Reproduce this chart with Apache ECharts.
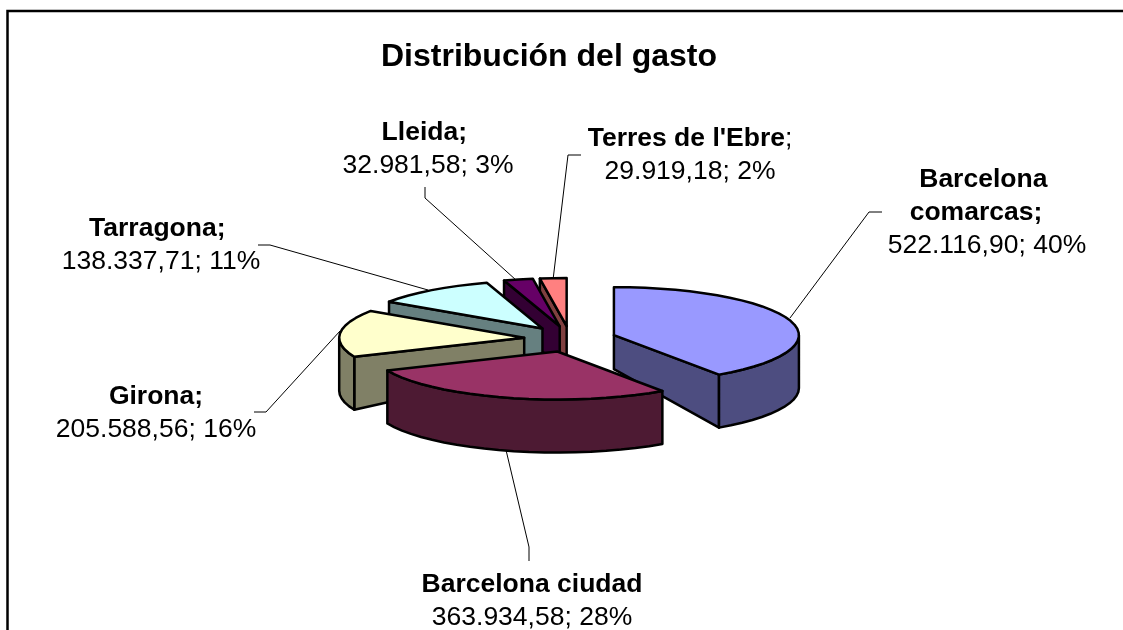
<!DOCTYPE html>
<html>
<head>
    <meta charset="utf-8">
    <title>Distribución del gasto</title>
    <style>
        html, body { margin: 0; padding: 0; background: #fff; overflow: hidden; }
        #chart1 { width: 1123px; height: 630px; }
    </style>
    <script src="https://cdn.jsdelivr.net/npm/echarts@6/dist/echarts.min.js"></script>
</head>
<body>
<div id="chart1"></div>
<script type="text/javascript">
    // datos, en orden horario desde las 12
    var categories = ['Barcelona comarcas', 'Barcelona ciudad', 'Girona', 'Tarragona', 'Lleida', "Terres de l'Ebre"];
    var values = [522116.90, 363934.58, 205588.56, 138337.71, 32981.58, 29919.18];
    var valueLabels = ['522.116,90', '363.934,58', '205.588,56', '138.337,71', '32.981,58', '29.919,18'];
    var percentLabels = ['40%', '28%', '16%', '11%', '3%', '2%'];

    // colores: cara superior y pared
    var topColors = ['#9999ff', '#993366', '#ffffcc', '#ccffff', '#660066', '#ff8080'];
    var wallColors = ['#4d4d80', '#4d1a33', '#808066', '#668080', '#330033', '#804040'];

    // geometria de la tarta inclinada
    var CX = 570, CY = 339, RX = 185, RY = 48;
    var EXPLODE_X = 46, EXPLODE_Y = 13;
    var RIM_DEPTH = 53, APEX_DEPTH = 34;

    var total = values.reduce(function (a, b) { return a + b; }, 0);

    function rimPoint(apex, deg, dy) {
        var r = deg * Math.PI / 180;
        return [apex[0] + RX * Math.sin(r), apex[1] - RY * Math.cos(r) + (dy || 0)];
    }

    function arcPoints(apex, from, to, dy) {
        var pts = [];
        var n = Math.max(2, Math.ceil((to - from) / 5));
        for (var i = 0; i <= n; i++) {
            pts.push(rimPoint(apex, from + (to - from) * i / n, dy));
        }
        return pts;
    }

    function renderSlice(params, api) {
        var i = params.dataIndex;
        var before = 0;
        for (var k = 0; k < i; k++) before += values[k];
        var start = before / total * 360;
        var end = (before + api.value(1)) / total * 360;
        var mid = (start + end) / 2 * Math.PI / 180;
        var apex = [CX + EXPLODE_X * Math.sin(mid), CY - EXPLODE_Y * Math.cos(mid)];
        var apexLow = [apex[0], apex[1] + APEX_DEPTH];
        var children = [];
        // lo que esta mas cerca del frente se pinta encima
        var order = Math.round(apex[1] * 10);

        function face(points, fill) {
            children.push({
                type: 'polygon',
                z2: order,
                shape: { points: points },
                style: { fill: fill, stroke: '#000', lineWidth: 2.5, lineJoin: 'round' }
            });
        }

        // pared radial, si mira al frente
        if (start >= 180) {
            face([apex, rimPoint(apex, start), rimPoint(apex, start, RIM_DEPTH), apexLow], wallColors[i]);
        }
        if (end > 90 && end < 180) {
            face([apex, rimPoint(apex, end), rimPoint(apex, end, RIM_DEPTH), apexLow], wallColors[i]);
        }
        // pared curva, solo la mitad delantera del borde
        var from = Math.max(start, 90), to = Math.min(end, 270);
        if (to > from) {
            face(arcPoints(apex, from, to).concat(arcPoints(apex, from, to, RIM_DEPTH).reverse()), wallColors[i]);
        }
        // cara superior
        face([apex].concat(arcPoints(apex, start, end)), topColors[i]);
        return { type: 'group', children: children };
    }

    var FONT = '"Liberation Sans", Arial, sans-serif';

    function label(x, y, lines) {
        return {
            type: 'text', x: x, y: y, z: 5,
            style: {
                text: lines, align: 'center', verticalAlign: 'top',
                lineHeight: 33, fill: '#000',
                font: '26.5px ' + FONT,
                rich: {
                    b: { font: 'bold 26.5px ' + FONT, lineHeight: 33, fill: '#000' },
                    n: { font: '26.5px ' + FONT, lineHeight: 33, fill: '#000' }
                }
            }
        };
    }

    function leader(points) {
        return {
            type: 'polyline', z: 1, shape: { points: points },
            style: { stroke: '#000', lineWidth: 1, fill: null }
        };
    }

    function valueLine(i) {
        return '{n|' + valueLabels[i] + '; ' + percentLabels[i] + '}';
    }

    var myChart1 = echarts.init(document.getElementById('chart1'), null, { renderer: 'canvas' });

    myChart1.setOption({
        backgroundColor: '#fff',
        animation: false,
        title: {
            show: true,
            text: 'Distribución del gasto',
            left: 544, top: 36, textAlign: 'center',
            textStyle: { fontFamily: FONT, fontSize: 32, fontWeight: 'bold', color: '#000' }
        },
        graphic: [
            { type: 'polyline', z: 0, shape: { points: [[7.5, 630], [7.5, 11], [1123, 11]] }, style: { stroke: '#000', lineWidth: 2.5, fill: null } },
            leader([[790, 318], [869, 212], [882, 212]]),
            leader([[258, 245], [270, 245], [428, 290]]),
            leader([[425, 187], [425, 198], [516, 280]]),
            leader([[581, 155], [568, 155], [553, 280]]),
            leader([[254, 412], [266, 412], [340, 331]]),
            leader([[506, 450], [529, 547], [529, 561]]),
            label(987, 163, '{b|Barcelona }\n{b|comarcas;   }\n' + valueLine(0)),
            label(532, 568, '{b|Barcelona ciudad}\n' + valueLine(1)),
            label(156, 380, '{b|Girona;}\n' + valueLine(2)),
            label(161, 212, '{b|Tarragona; }\n' + valueLine(3)),
            label(428, 116, '{b|Lleida; }\n' + valueLine(4)),
            label(690, 122, "{b|Terres de l'Ebre}{n|;}\n" + valueLine(5))
        ],
        series: [{
            type: 'custom',
            coordinateSystem: 'none',
            silent: true,
            renderItem: renderSlice,
            data: categories.map(function (c, i) { return [i, values[i]]; })
        }]
    });
</script>
</body>
</html>
